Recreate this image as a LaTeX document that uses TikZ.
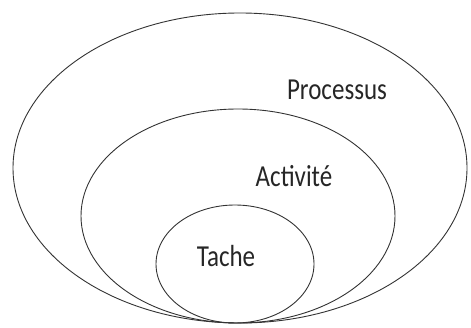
\documentclass[tikz,border=0pt]{standalone}
\usepackage{fontspec}
\setmainfont{Carlito}

\tikzset{
  ring/.style={line width=0.9pt, black!80},
  lbl/.style={font=\fontsize{25}{30}\selectfont, text=black!85}
}
\newcommand{\tall}[1]{\scalebox{1}[1.22]{#1}}

\begin{document}
\begin{tikzpicture}[x=1pt, y=1pt]
  \useasboundingbox (0,0) rectangle (471,327);

  % Centres of the three nested ellipses
  \coordinate (P) at (240,159);
  \coordinate (A) at (238,111);
  \coordinate (T) at (235,63);

  % Ellipses
  \draw[ring] (P) ellipse (227 and 155);
  \draw[ring] (A) ellipse (157 and 107);
  \draw[ring] (T) ellipse (79 and 59);

  % Labels
  \node[lbl] (proc) at (337,237) {\tall{Processus}};
  \node[lbl] (act) at (294,151) {\tall{Activité}};
  \node[lbl] (tache) at (226,71) {\tall{Tache}};
\end{tikzpicture}
\end{document}
